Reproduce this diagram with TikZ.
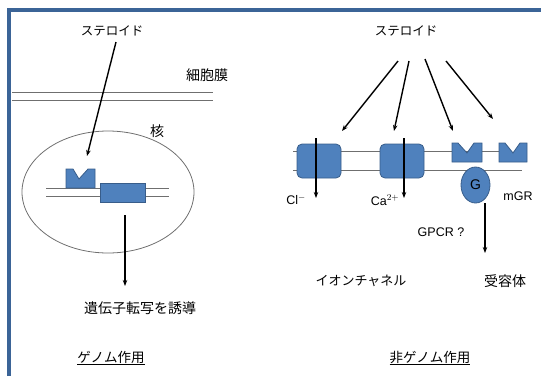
\documentclass[tikz,border=0pt]{standalone}
\usepackage{fontspec}
\setmainfont{Liberation Sans}
\newfontfamily\jp{Noto Sans CJK JP}
\usetikzlibrary{arrows.meta,shapes.geometric}
\definecolor{framecol}{HTML}{3B6497}
\definecolor{protfill}{HTML}{4F81BD}
\definecolor{protedge}{HTML}{385D8A}
\definecolor{memcol}{HTML}{6F6F6F}
\tikzset{
  frameline/.style={draw=framecol,line width=4pt},
  memline/.style={draw=memcol,line width=1pt},
  protein/.style={fill=protfill,draw=protedge,line width=0.8pt},
  arr/.style={draw=black,line width=1.4pt,-{Stealth[length=6pt,width=4.5pt]}},
  jplabel/.style={font=\jp\fontsize{14}{16}\selectfont,inner sep=0pt},
  latlabel/.style={font=\fontsize{12.5}{14}\selectfont,inner sep=0pt},
}
\begin{document}
\begin{tikzpicture}[x=1pt,y=-1pt]
\useasboundingbox (0,0) rectangle (541,376);
% frame
\draw[frameline] (9,376) -- (9,10) -- (541,10);

% ---------------- genomic action ----------------
\node[jplabel,font=\jp\fontsize{12.5}{14}\selectfont] (st1) at (112,31) {ステロイド};
\node[jplabel] (mem) at (207,75) {細胞膜};
\draw[memline] (12,92) -- (213,92);
\draw[memline] (12,100) -- (213,100);
\node[jplabel] (kaku) at (157,131) {核};
\draw[memcol,line width=0.8pt] (108,192) ellipse [x radius=86,y radius=61];
% DNA strands
\draw[memline] (46,188) -- (169,188);
\draw[memline] (46,196) -- (169,196);
% intracellular receptor and gene
\draw[protein] (66,188) -- (66,169) -- (73,169) -- (79,179) -- (88,169) -- (95,169) -- (95,188) -- cycle;
\node[protein,rectangle,minimum width=45pt,minimum height=19pt,inner sep=0pt] (gene) at (122.5,192.5) {};
\coordinate (st1a) at (116,42);
\coordinate (rec1) at (87,156);
\draw[arr] (st1a) -- (rec1);
\coordinate (tr0) at (125,215);
\coordinate (tr1) at (125,286);
\draw[arr] (tr0) -- (tr1);
\node[jplabel] (induce) at (140,308) {遺伝子転写を誘導};
\node[jplabel,font=\jp\fontsize{13.5}{16}\selectfont] (genome) at (111,358) {\underline{ゲノム作用}};

% ---------------- non-genomic action ----------------
\node[jplabel,font=\jp\fontsize{12.5}{14}\selectfont] (st2) at (406,31) {ステロイド};
% plasma membrane
\draw[memline] (293,151) -- (500,151);
\draw[memline] (293,170) -- (522,170);
% ion channels
\node[protein,rectangle,rounded corners=5pt,minimum width=44pt,minimum height=34pt,inner sep=0pt] (ch1) at (319,161) {};
\node[protein,rectangle,rounded corners=5pt,minimum width=44pt,minimum height=34pt,inner sep=0pt] (ch2) at (402,161) {};
% membrane receptors
\draw[protein] (452,162) -- (452,143) -- (458,143) -- (467,153) -- (474,143) -- (482,143) -- (482,162) -- cycle;
\draw[protein] (499,162) -- (499,143) -- (505,143) -- (513,153) -- (520,143) -- (527,143) -- (527,162) -- cycle;
\node[protein,ellipse,minimum width=29pt,minimum height=36pt,inner sep=0pt,font=\fontsize{14}{16}\selectfont] (gp) at (475.5,185) {G};
% ion flux through channels
\coordinate (cl0) at (316,138);
\coordinate (cl1) at (316,198);
\coordinate (ca0) at (404,138);
\coordinate (ca1) at (404,198);
\draw[arr] (cl0) -- (cl1);
\draw[arr] (ca0) -- (ca1);
% steroid to targets
\coordinate (s1) at (398,61);
\coordinate (s2) at (409,61);
\coordinate (s3) at (425,59);
\coordinate (s4) at (446,61);
\coordinate (t1) at (342,131);
\coordinate (t2) at (394,131);
\coordinate (t3) at (453,131);
\coordinate (t4) at (493,119);
\draw[arr] (s1) -- (t1);
\draw[arr] (s2) -- (t2);
\draw[arr] (s3) -- (t3);
\draw[arr] (s4) -- (t4);
% G protein signalling
\coordinate (g0) at (485,203);
\coordinate (g1) at (485,253);
\draw[arr] (g0) -- (g1);
% labels
\node[latlabel] (cl) at (296,200) {Cl$^{-}$};
\node[latlabel] (ca) at (385,200) {Ca$^{2+}$};
\node[latlabel] (mgr) at (518,196) {mGR};
\node[latlabel] (gpcr) at (441,232) {GPCR ?};
\node[jplabel,font=\jp\fontsize{13}{16}\selectfont] (ion) at (361,281) {イオンチャネル};
\node[jplabel] (recp) at (505,281) {受容体};
\node[jplabel,font=\jp\fontsize{13.5}{16}\selectfont] (ngenome) at (430,358) {\underline{非ゲノム作用}};
\end{tikzpicture}
\end{document}
